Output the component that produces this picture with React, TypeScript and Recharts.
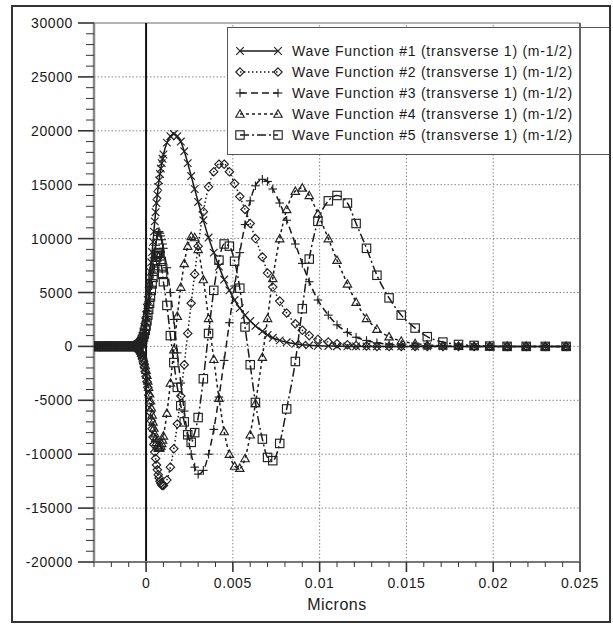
import React from "react";
import { LineChart, Line, XAxis, YAxis, ReferenceLine } from "recharts";

const X_MICRONS = [
  -0.003, -0.0029, -0.0028, -0.0027, -0.0026, -0.0025, -0.0024, -0.0023, -0.0022, -0.0021, -0.002, -0.0019,
  -0.0018, -0.0017, -0.0016, -0.0015, -0.0014, -0.0013, -0.0012, -0.0011, -0.001, -0.0009, -0.0008,
  -0.00075, -0.0007, -0.00065, -0.0006, -0.00055, -0.0005, -0.00045, -0.0004, -0.00035, -0.0003, -0.00025, -0.0002,
  -0.00015, -0.0001, -0.00005, 0, 0.00005, 0.0001, 0.00015, 0.0002, 0.00025, 0.0003, 0.00035, 0.0004,
  0.00045, 0.0005, 0.00055, 0.0006, 0.00065, 0.0007, 0.00075, 0.0008, 0.00085, 0.0009, 0.00095, 0.001,
  0.0012, 0.0014, 0.0016, 0.0018, 0.002, 0.0022, 0.0024, 0.0026, 0.0028, 0.003, 0.0033, 0.0036, 0.0039,
  0.0042, 0.0045, 0.0048, 0.0051, 0.0054, 0.0057, 0.006, 0.0063, 0.0067, 0.007, 0.0073, 0.0077, 0.0081,
  0.0086, 0.009, 0.0094, 0.0099, 0.0105, 0.011, 0.0116, 0.0121, 0.0127, 0.0133, 0.014, 0.0147, 0.0155,
  0.0162, 0.0171, 0.018, 0.0189, 0.0198, 0.0208, 0.0219, 0.023, 0.0242,
];

const WF1 = [
  0, 0, 0, 0, 0, 0, 0, 0, 0, 0, 0, 0, 0, 0, 0, 0, 0, 0, 0, 0, 0, 0, 0,
  0, 10, 30, 50, 80, 120, 180, 250, 360, 500, 720, 1000,
  1380, 1800, 2320, 2900, 3580, 4300, 5150, 6000, 6900, 7800, 8750, 9700,
  10650, 11600, 12450, 13300, 14050, 14800, 15400, 16000, 16500, 17000, 17400, 17800,
  18900, 19500, 19700, 19500, 19000, 18100, 17000, 15800, 14600, 13400, 11700, 10100, 8700,
  7400, 6200, 5200, 4300, 3550, 2900, 2350, 1900, 1400, 1050, 800, 560, 380,
  240, 160, 100, 60, 40, 20, 0, 0, 0, 0, 0, 0, 0,
  0, 0, 0, 0, 0, 0, 0, 0, 0,
];

const WF2 = [
  0, 0, 0, 0, 0, 0, 0, 0, 0, 0, 0, 0, 0, 0, 0, 0, 0, 0, 0, 0, 0, 0, 0,
  0, -10, -25, -50, -95, -150, -240, -350, -510, -700, -930, -1200,
  -1530, -1900, -2330, -2800, -3280, -3800, -4530, -5300, -6100, -6900, -7650, -8400,
  -9100, -9800, -10400, -11000, -11450, -11900, -12200, -12500, -12700, -12850, -12900, -12900,
  -12400, -11200, -9500, -7200, -4600, -1700, 1200, 4000, 6700, 9300, 12500, 14800, 16200,
  16900, 16900, 16200, 15100, 13900, 12700, 11400, 10000, 8300, 6800, 5500, 4200, 3100,
  2100, 1500, 1000, 650, 400, 250, 150, 80, 40, 0, 0, 0, 0,
  0, 0, 0, 0, 0, 0, 0, 0, 0,
];

const WF3 = [
  0, 0, 0, 0, 0, 0, 0, 0, 0, 0, 0, 0, 0, 0, 0, 0, 0, 0, 0, 0, 0, 0, 0,
  0, 10, 20, 40, 65, 100, 155, 230, 330, 450, 630, 850,
  1150, 1500, 1930, 2400, 2930, 3500, 4150, 4800, 5500, 6200, 6900, 7600,
  8220, 8800, 9380, 9900, 10300, 10600, 10650, 10500, 10250, 9900, 9500, 9100,
  7300, 5000, 2500, -600, -3400, -6000, -8300, -10000, -11200, -11850, -11500, -10000, -7700,
  -4700, -1300, 2200, 5600, 8700, 11300, 13500, 14900, 15500, 15300, 14600, 13300, 11700,
  9500, 7700, 6000, 4300, 2900, 2000, 1300, 850, 550, 330, 200, 110, 60,
  30, 0, 0, 0, 0, 0, 0, 0, 0,
];

const WF4 = [
  0, 0, 0, 0, 0, 0, 0, 0, 0, 0, 0, 0, 0, 0, 0, 0, 0, 0, 0, 0, 0, 0, 0,
  0, -5, -15, -30, -50, -80, -130, -200, -290, -400, -580, -800,
  -1080, -1400, -1780, -2200, -2680, -3200, -3780, -4400, -5050, -5700, -6350, -7000,
  -7570, -8100, -8530, -8900, -9200, -9400, -9450, -9400, -9230, -9000, -8680, -8300,
  -6200, -3400, -300, 2800, 5500, 7700, 9300, 10200, 10100, 9000, 6200, 2600, -1200,
  -4800, -7900, -10000, -11100, -11300, -10400, -8200, -5300, -1000, 2600, 6300, 10000, 12700,
  14400, 14700, 14000, 12300, 10000, 8000, 5800, 4100, 2600, 1600, 900, 500, 270,
  140, 60, 20, 0, 0, 0, 0, 0, 0,
];

const WF5 = [
  0, 0, 0, 0, 0, 0, 0, 0, 0, 0, 0, 0, 0, 0, 0, 0, 0, 0, 0, 0, 0, 0, 0,
  0, 5, 15, 30, 45, 70, 110, 160, 235, 330, 470, 650,
  880, 1150, 1500, 1900, 2380, 2900, 3440, 4000, 4600, 5200, 5800, 6400,
  6970, 7500, 7950, 8300, 8550, 8700, 8650, 8400, 7900, 7300, 6680, 6000,
  3800, 1000, -1500, -3800, -5500, -7000, -8200, -8900, -8000, -6600, -3000, 1200, 5200,
  8000, 9500, 9300, 7900, 5400, 1800, -1700, -5200, -8600, -10300, -10600, -9000, -5800,
  -1400, 3500, 8100, 11600, 13500, 14000, 13300, 11400, 9100, 6600, 4500, 2900, 1700,
  900, 400, 180, 90, 30, 0, 0, 0, 0,
];

const SERIES_NAMES = [
  "Wave Function #1 (transverse 1) (m-1/2)",
  "Wave Function #2 (transverse 1) (m-1/2)",
  "Wave Function #3 (transverse 1) (m-1/2)",
  "Wave Function #4 (transverse 1) (m-1/2)",
  "Wave Function #5 (transverse 1) (m-1/2)",
];

const X_MAJOR_TICKS = [0, 0.005, 0.01, 0.015, 0.02, 0.025];
const X_TICK_LABELS = ["0", "0.005", "0.01", "0.015", "0.02", "0.025"];
const Y_MAJOR_TICKS = [-20000, -15000, -10000, -5000, 0, 5000, 10000, 15000, 20000, 25000, 30000];
const Y_TICK_LABELS = ["-20000", "-15000", "-10000", "-5000", "0", "5000", "10000", "15000", "20000", "25000", "30000"];
const X_GRID = [0.005, 0.01, 0.015, 0.02];
const Y_GRID = [-15000, -10000, -5000, 0, 5000, 10000, 15000, 20000, 25000];
const X_AXIS_TITLE = "Microns";

const X_ALL_TICKS = Array.from({ length: 29 }, (_, i) => Math.round((-0.003 + i * 0.001) * 10000) / 10000);
const Y_ALL_TICKS = Array.from({ length: 51 }, (_, i) => -20000 + i * 1000);

const data = X_MICRONS.map((x, i) => ({ x, s1: WF1[i], s2: WF2[i], s3: WF3[i], s4: WF4[i], s5: WF5[i] }));

const FONT = "'Liberation Sans', Arial, Helvetica, sans-serif";
const W = 613;
const H = 624;
const PLOT_LEFT = 94;
const PLOT_TOP = 23;
const PLOT_RIGHT = 580;
const PLOT_BOTTOM = 562;
const INK = "#1a1a1a";
const MARK = "#222";

type Shape = "x" | "diamond" | "plus" | "triangle" | "square";
const SHAPES: Shape[] = ["x", "diamond", "plus", "triangle", "square"];
const DASHES = [undefined, "1.5 2.5", "7 4", "3 3", "9 3 2 3"];

function MarkerShape({ shape, cx, cy }: { shape: Shape; cx: number; cy: number }) {
  const s = 3.8;
  const common = { stroke: MARK, strokeWidth: 1.15, fill: "none" };
  switch (shape) {
    case "x":
      return (
        <g {...common}>
          <line x1={cx - s} y1={cy - s} x2={cx + s} y2={cy + s} />
          <line x1={cx - s} y1={cy + s} x2={cx + s} y2={cy - s} />
        </g>
      );
    case "plus":
      return (
        <g {...common}>
          <line x1={cx - s - 0.5} y1={cy} x2={cx + s + 0.5} y2={cy} />
          <line x1={cx} y1={cy - s - 0.5} x2={cx} y2={cy + s + 0.5} />
        </g>
      );
    case "diamond":
      return <polygon {...common} points={`${cx},${cy - 4.2} ${cx + 4.2},${cy} ${cx},${cy + 4.2} ${cx - 4.2},${cy}`} />;
    case "triangle":
      return <polygon {...common} points={`${cx},${cy - 4.2} ${cx + 4.2},${cy + 3.2} ${cx - 4.2},${cy + 3.2}`} />;
    case "square":
    default:
      return <rect {...common} x={cx - 4.2} y={cy - 4.2} width={8.4} height={8.4} />;
  }
}

function makeDot(shape: Shape, sid: number) {
  return (props: any) => {
    const { cx, cy, index } = props;
    if (cx == null || cy == null || isNaN(cx) || isNaN(cy)) return <g key={`e-${sid}-${index}`} />;
    return (
      <g key={`d-${sid}-${index}`}>
        <MarkerShape shape={shape} cx={cx} cy={cy} />
      </g>
    );
  };
}

function XTick(props: any) {
  const { x, payload } = props;
  const v = payload.value;
  const idx = X_MAJOR_TICKS.findIndex((t) => Math.abs(t - v) < 1e-9);
  const major = idx >= 0;
  return (
    <g>
      <line x1={x} x2={x} y1={PLOT_BOTTOM} y2={PLOT_BOTTOM + (major ? 10 : 5)} stroke="#333" strokeWidth={major ? 1.6 : 1} />
      {major && (
        <text x={x} y={PLOT_BOTTOM + 26} textAnchor="middle" fontFamily={FONT} fontSize={14} letterSpacing={0.6} fill={INK}>
          {X_TICK_LABELS[idx]}
        </text>
      )}
    </g>
  );
}

function YTick(props: any) {
  const { y, payload } = props;
  const v = payload.value;
  const idx = Y_MAJOR_TICKS.findIndex((t) => Math.abs(t - v) < 1e-6);
  const major = idx >= 0;
  return (
    <g>
      <line x1={PLOT_LEFT - (major ? 16 : 8)} x2={PLOT_LEFT} y1={y} y2={y} stroke="#333" strokeWidth={major ? 1.6 : 1} />
      {major && (
        <text x={PLOT_LEFT - 21} y={y + 5} textAnchor="end" fontFamily={FONT} fontSize={14} letterSpacing={0.6} fill={INK}>
          {Y_TICK_LABELS[idx]}
        </text>
      )}
    </g>
  );
}

const LEG_LEFT = 227;
const LEG_TOP = 27;
const LEG_W = 384;
const LEG_H = 128;

function LegendBox() {
  return (
    <div
      style={{
        position: "absolute",
        left: LEG_LEFT,
        top: LEG_TOP,
        width: LEG_W,
        height: LEG_H,
        boxSizing: "border-box",
        border: "1px solid #555",
        background: "#fff",
      }}
    >
      <svg width={LEG_W - 2} height={LEG_H - 2} style={{ display: "block" }}>
        {SERIES_NAMES.map((name, i) => {
          const y = 23 + i * 21;
          return (
            <g key={name}>
              <line x1={12} x2={50} y1={y} y2={y} stroke={INK} strokeWidth={1.3} strokeDasharray={DASHES[i]} />
              <MarkerShape shape={SHAPES[i]} cx={12} cy={y} />
              <MarkerShape shape={SHAPES[i]} cx={50} cy={y} />
              <text x={64} y={y + 5} fontFamily={FONT} fontSize={14} letterSpacing={0.75} fill={INK}>
                {name}
              </text>
            </g>
          );
        })}
      </svg>
    </div>
  );
}

export default function App() {
  const keys = ["s1", "s2", "s3", "s4", "s5"];
  return (
    <div style={{ position: "absolute", left: 0, top: 0, width: W, height: H, background: "#fff" }}>
      <LineChart
        width={W}
        height={H}
        data={data}
        margin={{ top: PLOT_TOP, left: 14, right: W - PLOT_RIGHT, bottom: H - PLOT_BOTTOM - 40 }}
      >
        <XAxis
          dataKey="x"
          type="number"
          domain={[-0.003, 0.025]}
          ticks={X_ALL_TICKS}
          interval={0}
          tick={<XTick />}
          tickLine={false}
          axisLine={{ stroke: "#777", strokeWidth: 2 }}
          height={40}
          allowDataOverflow
        />
        <YAxis
          type="number"
          domain={[-20000, 30000]}
          ticks={Y_ALL_TICKS}
          interval={0}
          tick={<YTick />}
          tickLine={false}
          axisLine={{ stroke: "#888", strokeWidth: 2.5 }}
          width={80}
          allowDataOverflow
        />
        {Y_GRID.map((v) => (
          <ReferenceLine key={`gy${v}`} y={v} stroke="#888" strokeDasharray="1.5 2" strokeWidth={1} />
        ))}
        {X_GRID.map((v) => (
          <ReferenceLine key={`gx${v}`} x={v} stroke="#888" strokeDasharray="1.5 2" strokeWidth={1} />
        ))}
        <ReferenceLine y={30000} stroke="#999" strokeWidth={1.5} />
        <ReferenceLine x={0} stroke="#111" strokeWidth={2} />
        {keys.map((k, i) => (
          <Line
            key={k}
            dataKey={k}
            name={SERIES_NAMES[i]}
            type="monotone"
            stroke={INK}
            strokeWidth={1.5}
            strokeDasharray={DASHES[i]}
            dot={makeDot(SHAPES[i], i)}
            activeDot={false}
            isAnimationActive={false}
          />
        ))}
      </LineChart>
      <LegendBox />
      <div
        style={{
          position: "absolute",
          left: PLOT_RIGHT - 1,
          top: PLOT_TOP,
          width: 1.5,
          height: PLOT_BOTTOM - PLOT_TOP,
          background: "#666",
        }}
      />
      <div
        style={{
          position: "absolute",
          left: 0,
          width: PLOT_LEFT + PLOT_RIGHT,
          top: 596,
          textAlign: "center",
          fontFamily: FONT,
          fontSize: 16,
          letterSpacing: 0.5,
          color: INK,
        }}
      >
        {X_AXIS_TITLE}
      </div>
      <div
        style={{
          position: "absolute",
          left: 11,
          top: 5,
          width: 600,
          height: 618,
          boxSizing: "border-box",
          border: "2px solid #333",
          pointerEvents: "none",
        }}
      />
    </div>
  );
}
